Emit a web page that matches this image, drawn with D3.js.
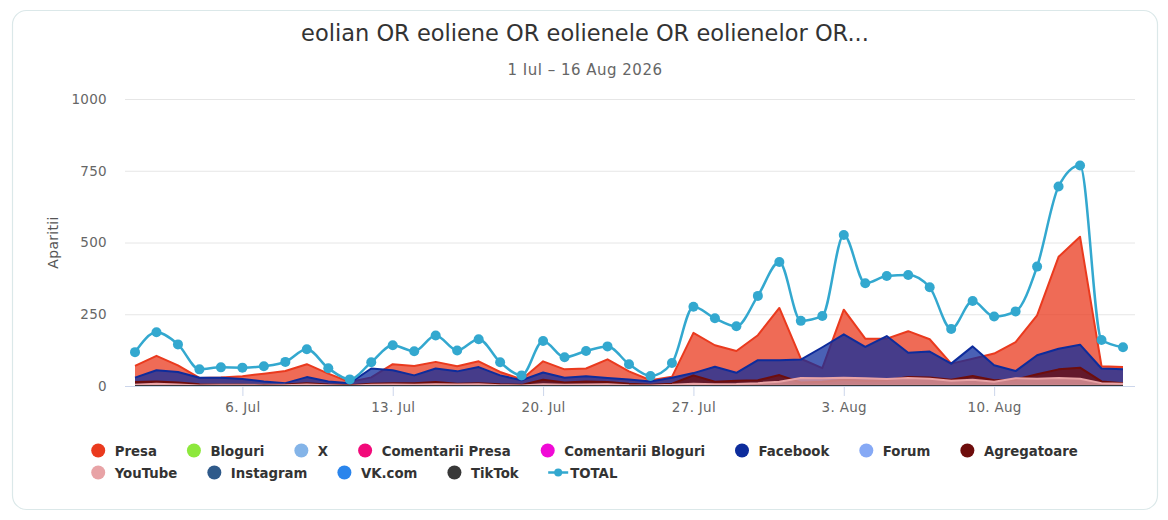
<!DOCTYPE html>
<html>
<head>
<meta charset="utf-8">
<style>
    body { margin: 0; background: #fff; }
    .card { fill: #fff; stroke: #dbe8e9; stroke-width: 1.2; }
    .titlu { font-family: "DejaVu Sans", sans-serif; font-size: 22.5px; fill: #333; }
    .subtitlu { font-family: "DejaVu Sans", sans-serif; font-size: 15px; letter-spacing: 0.5px; fill: #666; }
    .axa text { font-family: "DejaVu Sans", sans-serif; font-size: 13.5px; letter-spacing: 0.3px; fill: #666; }
    .axa .domain { stroke: #ccd6eb; }
    .axa line { stroke: #ccd6eb; }
    .grid line { stroke: #e6e6e6; }
    .grid .domain { display: none; }
    .legenda text { font-family: "DejaVu Sans", sans-serif; font-size: 13.3px; font-weight: bold; fill: #333; }
</style>
</head>
<body>
<div id="chart"></div>
<script src="https://cdn.jsdelivr.net/npm/d3@7/dist/d3.min.js"></script>
<script>

//////////////////// date ////////////////////
const zile = [
    '2026-07-01','2026-07-02','2026-07-03','2026-07-04','2026-07-05','2026-07-06','2026-07-07',
    '2026-07-08','2026-07-09','2026-07-10','2026-07-11','2026-07-12','2026-07-13','2026-07-14',
    '2026-07-15','2026-07-16','2026-07-17','2026-07-18','2026-07-19','2026-07-20','2026-07-21',
    '2026-07-22','2026-07-23','2026-07-24','2026-07-25','2026-07-26','2026-07-27','2026-07-28',
    '2026-07-29','2026-07-30','2026-07-31','2026-08-01','2026-08-02','2026-08-03','2026-08-04',
    '2026-08-05','2026-08-06','2026-08-07','2026-08-08','2026-08-09','2026-08-10','2026-08-11',
    '2026-08-12','2026-08-13','2026-08-14','2026-08-15','2026-08-16'
];

const presa = [70, 105, 72, 28, 30, 34, 43, 52, 76, 43, 14, 30, 76, 70, 84, 69, 86, 49, 23, 86, 58, 61, 93, 51, 20, 32,
    185, 142, 122, 177, 272, 95, 62, 266, 165, 165, 191, 163, 78, 95, 113, 153, 246, 450, 520, 69, 66];
const bloguri = [1, 2, 1, 0, 0, 1, 0, 1, 1, 0, 0, 1, 1, 1, 2, 1, 1, 0, 0, 1, 1, 1, 1, 0, 0, 1,
    2, 1, 1, 2, 2, 1, 1, 2, 2, 1, 2, 1, 1, 1, 1, 1, 2, 3, 3, 1, 1];
const xTwitter = [2, 3, 2, 2, 3, 4, 3, 3, 2, 2, 1, 2, 3, 2, 3, 2, 3, 2, 1, 3, 2, 2, 3, 2, 1, 2,
    3, 3, 2, 3, 4, 3, 3, 4, 3, 3, 4, 3, 2, 3, 2, 3, 4, 5, 5, 2, 2];
const comentariiPresa = [0, 0, 0, 0, 0, 0, 0, 0, 0, 0, 0, 0, 0, 0, 0, 0, 0, 0, 0, 0, 0, 0, 0, 0, 0, 0,
    0, 0, 0, 0, 0, 0, 0, 0, 0, 0, 0, 0, 0, 0, 0, 0, 0, 0, 0, 0, 0];
const comentariiBloguri = [0, 0, 0, 0, 0, 0, 0, 0, 0, 0, 0, 0, 0, 0, 0, 0, 0, 0, 0, 0, 0, 0, 0, 0, 0, 0,
    0, 0, 0, 0, 0, 0, 0, 0, 0, 0, 0, 0, 0, 0, 0, 0, 0, 0, 0, 0, 0];
const facebook = [29, 55, 49, 29, 29, 24, 16, 10, 31, 16, 10, 61, 55, 37, 61, 51, 66, 37, 20, 47, 29, 34, 28, 23, 16, 29,
    45, 67, 46, 90, 90, 92, 135, 180, 136, 174, 116, 120, 78, 138, 72, 52, 107, 130, 144, 61, 58];
const forum = [2, 3, 3, 4, 5, 5, 4, 4, 3, 2, 1, 2, 2, 2, 3, 2, 2, 2, 1, 2, 2, 2, 2, 2, 1, 2,
    2, 2, 2, 3, 3, 3, 3, 3, 2, 3, 3, 2, 2, 2, 2, 2, 3, 3, 3, 2, 1];
const agregatoare = [14, 16, 12, 6, 5, 5, 4, 5, 10, 5, 3, 8, 10, 10, 14, 8, 10, 6, 4, 22, 12, 16, 14, 8, 4, 8,
    37, 15, 18, 20, 38, 12, 15, 22, 18, 20, 31, 30, 22, 35, 20, 22, 41, 58, 64, 16, 10];
const youtube = [4, 8, 5, 2, 3, 3, 2, 3, 5, 3, 1, 4, 5, 4, 6, 5, 6, 3, 2, 6, 4, 5, 6, 3, 2, 4,
    8, 6, 7, 10, 15, 28, 27, 29, 27, 24, 28, 25, 18, 22, 15, 27, 25, 28, 25, 10, 8];
const instagram = [0, 0, 0, 0, 0, 0, 0, 0, 0, 0, 0, 0, 0, 0, 0, 0, 0, 0, 0, 0, 0, 0, 0, 0, 0, 0,
    0, 0, 0, 0, 0, 0, 0, 0, 0, 0, 0, 0, 0, 0, 0, 0, 0, 0, 0, 0, 0];
const vk = [0, 0, 0, 0, 0, 0, 0, 0, 0, 0, 0, 0, 0, 0, 0, 0, 0, 0, 0, 0, 0, 0, 0, 0, 0, 0,
    0, 0, 0, 0, 0, 0, 0, 0, 0, 0, 0, 0, 0, 0, 0, 0, 0, 0, 0, 0, 0];
const tiktok = [0, 0, 0, 0, 0, 0, 0, 0, 0, 0, 0, 0, 0, 0, 0, 0, 0, 0, 0, 0, 0, 0, 0, 0, 0, 0,
    0, 0, 0, 0, 0, 0, 0, 0, 0, 0, 0, 0, 0, 0, 0, 0, 0, 0, 0, 0, 0];
const total = [118, 187, 145, 58, 65, 64, 69, 84, 128, 62, 23, 83, 142, 121, 176, 124, 163, 83, 37, 157, 100, 122, 138, 76, 35, 80,
    276, 236, 208, 314, 432, 227, 244, 526, 358, 383, 387, 344, 199, 296, 242, 260, 416, 695, 768, 160, 135];

const numeSerii = ['Presa', 'Bloguri', 'X', 'Comentarii Presa', 'Comentarii Bloguri', 'Facebook',
    'Forum', 'Agregatoare', 'YouTube', 'Instagram', 'VK.com', 'TikTok'];
const valoriSerii = [presa, bloguri, xTwitter, comentariiPresa, comentariiBloguri, facebook,
    forum, agregatoare, youtube, instagram, vk, tiktok];
const culori = ['#ea3a1e', '#8de83c', '#84b4e8', '#f20a7a', '#f00ad6', '#0d2c9c',
    '#86a9f5', '#6e0d0c', '#e8a3a6', '#2f5a8a', '#2b85ec', '#383838'];
const culoareTotal = '#33a8cf';

const yTicks = [0, 250, 500, 750, 1000];

//////////////////// dimensiuni ////////////////////
const W = 1168, H = 520;
const plotLeft = 125, plotRight = 1135, plotTop = 99, plotBottom = 386;

const parseZi = d3.timeParse('%Y-%m-%d');
const datele = zile.map(parseZi);

const svg = d3.select('#chart').append('svg')
    .attr('width', W)
    .attr('height', H);

svg.append('rect')
    .classed('card', true)
    .attr('x', 12.5).attr('y', 10.5)
    .attr('width', 1145).attr('height', 499)
    .attr('rx', 14);

svg.append('text')
    .classed('titlu', true)
    .attr('x', 585).attr('y', 41)
    .attr('text-anchor', 'middle')
    .text('eolian OR eoliene OR eolienele OR eolienelor OR...');

svg.append('text')
    .classed('subtitlu', true)
    .attr('x', 585).attr('y', 75)
    .attr('text-anchor', 'middle')
    .text('1 Iul \u2013 16 Aug 2026');

//////////////////// scale ////////////////////
const x = d3.scaleTime()
    .domain([datele[0], datele[datele.length - 1]])
    .range([135, 1123]);

const y = d3.scaleLinear()
    .domain([0, 1000])
    .range([plotBottom, plotTop]);

// grid
svg.append('g')
    .classed('grid', true)
    .attr('transform', `translate(${plotLeft}, 0)`)
    .call(d3.axisLeft(y).tickValues(yTicks).tickSize(-(plotRight - plotLeft)).tickFormat(''));

// axa y
const axaY = svg.append('g')
    .classed('axa', true)
    .attr('transform', `translate(${plotLeft - 18}, 0)`)
    .call(d3.axisLeft(y).tickValues(yTicks).tickSize(0).tickPadding(0).tickFormat(d3.format('d')));
axaY.select('.domain').remove();

svg.append('text')
    .attr('transform', `translate(58, ${(plotTop + plotBottom) / 2}) rotate(-90)`)
    .attr('text-anchor', 'middle')
    .style('font-family', '"DejaVu Sans", sans-serif')
    .style('font-size', '14px')
    .style('letter-spacing', '0.3px')
    .style('fill', '#555')
    .text('Aparitii');

//////////////////// serii ////////////////////
const zona = d3.area()
    .x((d) => x(d.data))
    .y0(y(0))
    .y1((d) => y(d.v));

const linie = d3.line()
    .x((d) => x(d.data))
    .y((d) => y(d.v));

const serii = svg.append('g').classed('serii', true);

valoriSerii.forEach((valori, idx) => {
    const puncte = valori.map((v, i) => ({ data: datele[i], v: v }));
    const g = serii.append('g');
    g.append('path')
        .attr('d', zona(puncte))
        .attr('fill', culori[idx])
        .attr('fill-opacity', 0.75);
    g.append('path')
        .attr('d', linie(puncte))
        .attr('fill', 'none')
        .attr('stroke', culori[idx])
        .attr('stroke-width', 2)
        .attr('stroke-linejoin', 'round');
});

// axa x (deasupra zonelor)
const axaX = svg.append('g')
    .classed('axa', true)
    .attr('transform', `translate(0, ${plotBottom})`)
    .call(d3.axisBottom(x)
        .ticks(d3.timeMonday.every(1))
        .tickFormat(d3.timeFormat('%-d. %b'))
        .tickSize(10)
        .tickPadding(6)
        .tickSizeOuter(0));
axaX.select('.domain').attr('d', `M${plotLeft},0.5H${plotRight}`);

// TOTAL
const puncteTotal = total.map((v, i) => ({ data: datele[i], v: v }));
svg.append('path')
    .attr('d', d3.line().x((d) => x(d.data)).y((d) => y(d.v)).curve(d3.curveMonotoneX)(puncteTotal))
    .attr('fill', 'none')
    .attr('stroke', culoareTotal)
    .attr('stroke-width', 2.5);

svg.append('g').selectAll('circle')
    .data(puncteTotal)
    .join('circle')
    .attr('cx', (d) => x(d.data))
    .attr('cy', (d) => y(d.v))
    .attr('r', 5)
    .attr('fill', culoareTotal);

//////////////////// legenda ////////////////////
const legenda = svg.append('g').classed('legenda', true);
const elemente = numeSerii.map((n, i) => ({ nume: n, culoare: culori[i], linie: false }))
    .concat([{ nume: 'TOTAL', culoare: culoareTotal, linie: true }]);

const rowH = 22, maxW = 1010, gap = 29.5;
let randuri = [[]];
let pozX = 0;
elemente.forEach((el) => {
    const g = legenda.append('g');
    let txtX = el.linie ? 22 : 24;
    if (el.linie) {
        g.append('line').attr('x1', 0).attr('x2', 20).attr('y1', 0).attr('y2', 0)
            .attr('stroke', el.culoare).attr('stroke-width', 2.5);
        g.append('circle').attr('cx', 10).attr('cy', 0).attr('r', 4).attr('fill', el.culoare);
    } else {
        g.append('circle').attr('cx', 7.5).attr('cy', 0).attr('r', 7).attr('fill', el.culoare);
    }
    const t = g.append('text').attr('x', txtX).attr('y', 5).text(el.nume);
    const w = txtX + t.node().getComputedTextLength();
    if (pozX > 0 && pozX + w > maxW) {
        randuri.push([]);
        pozX = 0;
    }
    randuri[randuri.length - 1].push({ g: g, x: pozX });
    pozX += w + gap;
});

let latimeMax = 0;
randuri.forEach((r) => {
    const last = r[r.length - 1];
    const lat = last.x + last.g.node().getBBox().width;
    latimeMax = Math.max(latimeMax, lat);
});
const startX = (W - latimeMax) / 2;
randuri.forEach((r, ri) => {
    r.forEach((it) => {
        it.g.attr('transform', `translate(${startX + it.x}, ${450.5 + ri * rowH})`);
    });
});

</script>
</body>
</html>
